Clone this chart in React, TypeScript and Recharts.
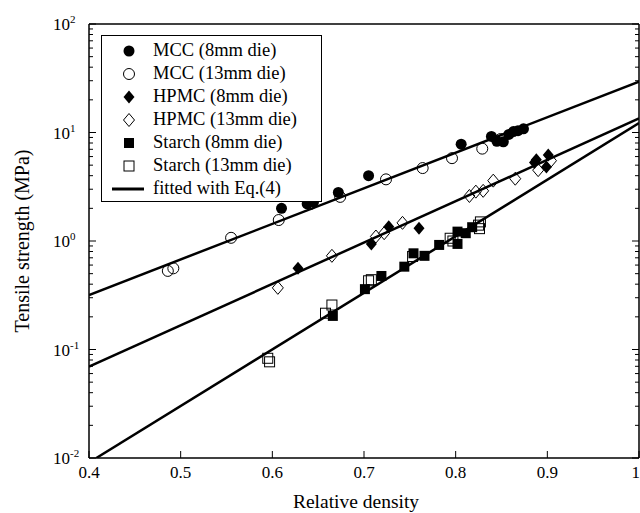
import React from 'react';
import { ScatterChart, Scatter, XAxis, YAxis, Legend } from 'recharts';

const FONT = 'Liberation Serif, Tinos, DejaVu Serif, Noto Serif, serif';

// measured points: x = relative density, y = tensile strength (MPa)
const mcc8 = [
  { x: 0.61, y: 2.0 },
  { x: 0.638, y: 2.2 },
  { x: 0.645, y: 2.3 },
  { x: 0.672, y: 2.8 },
  { x: 0.705, y: 4.0 },
  { x: 0.806, y: 7.8 },
  { x: 0.839, y: 9.2 },
  { x: 0.845, y: 8.3 },
  { x: 0.852, y: 8.2 },
  { x: 0.858, y: 9.6 },
  { x: 0.863, y: 10.2 },
  { x: 0.868, y: 10.4 },
  { x: 0.874, y: 10.8 },
];

const mcc13 = [
  { x: 0.486, y: 0.53 },
  { x: 0.492, y: 0.56 },
  { x: 0.555, y: 1.07 },
  { x: 0.607, y: 1.56 },
  { x: 0.642, y: 2.2 },
  { x: 0.674, y: 2.55 },
  { x: 0.724, y: 3.7 },
  { x: 0.764, y: 4.7 },
  { x: 0.796, y: 5.8 },
  { x: 0.829, y: 7.1 },
  { x: 0.849, y: 8.7 },
];

const hpmc8 = [
  { x: 0.628, y: 0.56 },
  { x: 0.708, y: 0.94 },
  { x: 0.727, y: 1.35 },
  { x: 0.76, y: 1.31 },
  { x: 0.886, y: 5.3 },
  { x: 0.888, y: 5.6 },
  { x: 0.899, y: 4.8 },
  { x: 0.901, y: 6.2 },
];

const hpmc13 = [
  { x: 0.606, y: 0.37 },
  { x: 0.665, y: 0.73 },
  { x: 0.713, y: 1.1 },
  { x: 0.722, y: 1.18 },
  { x: 0.742, y: 1.47 },
  { x: 0.815, y: 2.6 },
  { x: 0.822, y: 2.85 },
  { x: 0.83, y: 2.9 },
  { x: 0.841, y: 3.6 },
  { x: 0.865, y: 3.75 },
  { x: 0.89, y: 4.5 },
  { x: 0.904, y: 5.5 },
];

const starch8 = [
  { x: 0.666, y: 0.204 },
  { x: 0.701, y: 0.36 },
  { x: 0.719, y: 0.476 },
  { x: 0.744, y: 0.58 },
  { x: 0.754, y: 0.77 },
  { x: 0.766, y: 0.73 },
  { x: 0.782, y: 0.92 },
  { x: 0.802, y: 1.22 },
  { x: 0.802, y: 0.94 },
  { x: 0.811, y: 1.18 },
  { x: 0.818, y: 1.34 },
];

const starch13 = [
  { x: 0.595, y: 0.083 },
  { x: 0.597, y: 0.077 },
  { x: 0.658, y: 0.216 },
  { x: 0.665, y: 0.257 },
  { x: 0.705, y: 0.43 },
  { x: 0.708, y: 0.44 },
  { x: 0.753, y: 0.72 },
  { x: 0.794, y: 1.06 },
  { x: 0.797, y: 1.0 },
  { x: 0.825, y: 1.4 },
  { x: 0.827, y: 1.5 },
  { x: 0.826, y: 1.3 },
];

// fitted lines (Eq. 4), end points
const mccFit = [
  { x: 0.4, y: 0.318 },
  { x: 1.0, y: 29.4 },
];
const hpmcFit = [
  { x: 0.4, y: 0.0694 },
  { x: 1.0, y: 13.5 },
];
const starchFit = [
  { x: 0.408, y: 0.01 },
  { x: 1.0, y: 12.2 },
];

const xTicks = [0.4, 0.5, 0.6, 0.7, 0.8, 0.9, 1.0];
const xTopTicks = [0.5, 0.6, 0.7, 0.8, 0.9];
const decades = [0.01, 0.1, 1, 10];
const minorSteps = [1, 2, 3, 4, 5, 6, 7, 8, 9];
const yTicks = [...decades.flatMap((d) => minorSteps.map((m) => +(d * m).toPrecision(3))), 100];

type MarkerKind = 'circle' | 'circleOpen' | 'diamond' | 'diamondOpen' | 'square' | 'squareOpen' | 'line';

const legendItems: { name: string; kind: MarkerKind }[] = [
  { name: 'MCC (8mm die)', kind: 'circle' },
  { name: 'MCC (13mm die)', kind: 'circleOpen' },
  { name: 'HPMC (8mm die)', kind: 'diamond' },
  { name: 'HPMC (13mm die)', kind: 'diamondOpen' },
  { name: 'Starch (8mm die)', kind: 'square' },
  { name: 'Starch (13mm die)', kind: 'squareOpen' },
  { name: 'fitted with Eq.(4)', kind: 'line' },
];

function Marker({ kind, cx, cy }: { kind: MarkerKind; cx: number; cy: number }) {
  switch (kind) {
    case 'circle':
      return <circle cx={cx} cy={cy} r={5.5} fill="#000" />;
    case 'circleOpen':
      return <circle cx={cx} cy={cy} r={5.5} fill="none" stroke="#000" strokeWidth={1} />;
    case 'diamond':
      return <polygon points={`${cx},${cy - 6.5} ${cx + 5.5},${cy} ${cx},${cy + 6.5} ${cx - 5.5},${cy}`} fill="#000" />;
    case 'diamondOpen':
      return (
        <polygon
          points={`${cx},${cy - 6.5} ${cx + 5.5},${cy} ${cx},${cy + 6.5} ${cx - 5.5},${cy}`}
          fill="none"
          stroke="#000"
          strokeWidth={1}
        />
      );
    case 'square':
      return <rect x={cx - 5} y={cy - 5} width={10} height={10} fill="#000" />;
    case 'squareOpen':
      return <rect x={cx - 5} y={cy - 5} width={10} height={10} fill="none" stroke="#000" strokeWidth={1} />;
    default:
      return <line x1={cx - 16} x2={cx + 16} y1={cy} y2={cy} stroke="#000" strokeWidth={3} />;
  }
}

function LogTick(props: any) {
  const { x, y, payload, side } = props;
  const v = payload.value;
  const exp = Math.round(Math.log10(v));
  const major = Math.abs(v - Math.pow(10, exp)) < 1e-6 * v;
  const len = major ? 7 : 4;
  const dir = side === 'left' ? 1 : -1;
  return (
    <g>
      <line x1={x} x2={x + dir * len} y1={y} y2={y} stroke="#000" strokeWidth={1} />
      {side === 'left' && major && (
        <text x={53} y={y + 6} fontSize={17} fill="#000" style={{ fontFamily: FONT }}>
          10
          <tspan dy={-7} fontSize={11}>
            {exp}
          </tspan>
        </text>
      )}
    </g>
  );
}

function XTick(props: any) {
  const { x, y, payload, side } = props;
  const v = payload.value;
  if (side === 'top') {
    return <line x1={x} x2={x} y1={y} y2={y + 6} stroke="#000" strokeWidth={1} />;
  }
  const last = v === 1;
  return (
    <g>
      <line x1={x} x2={x} y1={y} y2={y - 7} stroke="#000" strokeWidth={1} />
      <text
        x={last ? x + 1 : x}
        y={y + 20}
        textAnchor={last ? 'end' : 'middle'}
        fontSize={17}
        fill="#000"
        style={{ fontFamily: FONT }}
      >
        {last ? '1' : v.toFixed(1)}
      </text>
    </g>
  );
}

function LegendBox() {
  return (
    <div
      style={{
        width: 219,
        height: 165,
        border: '1px solid #000',
        background: '#fff',
        position: 'relative',
        fontFamily: FONT,
        fontSize: 18.5,
        color: '#000',
      }}
    >
      {legendItems.map((item, i) => (
        <div key={item.name} style={{ position: 'absolute', left: 0, top: 3 + i * 23, height: 23, width: 219 }}>
          <svg width={50} height={23} style={{ position: 'absolute', left: 0, top: 0 }}>
            <Marker kind={item.kind} cx={item.kind === 'line' ? 26 : 27} cy={12} />
          </svg>
          <span style={{ position: 'absolute', left: 51, top: 0, lineHeight: '23px', whiteSpace: 'nowrap' }}>
            {item.name}
          </span>
        </div>
      ))}
    </div>
  );
}

const axisLine = { stroke: '#000', strokeWidth: 1.5 };

export default function App() {
  const series: { data: { x: number; y: number }[]; kind: MarkerKind; name: string }[] = [
    { data: mcc8, kind: 'circle', name: 'MCC (8mm die)' },
    { data: mcc13, kind: 'circleOpen', name: 'MCC (13mm die)' },
    { data: hpmc8, kind: 'diamond', name: 'HPMC (8mm die)' },
    { data: hpmc13, kind: 'diamondOpen', name: 'HPMC (13mm die)' },
    { data: starch8, kind: 'square', name: 'Starch (8mm die)' },
    { data: starch13, kind: 'squareOpen', name: 'Starch (13mm die)' },
  ];

  return (
    <div style={{ position: 'absolute', left: 0, top: 0, width: 640, height: 513, background: '#fff', fontFamily: FONT }}>
      <ScatterChart width={640} height={513} margin={{ top: 0, right: 0, bottom: 0, left: 0 }} style={{ fontFamily: FONT }}>
        <XAxis
          xAxisId="bottom"
          dataKey="x"
          type="number"
          domain={[0.4, 1]}
          ticks={xTicks}
          interval={0}
          allowDataOverflow
          height={55}
          axisLine={axisLine}
          tickLine={false}
          tickSize={0}
          tickMargin={0}
          tick={<XTick side="bottom" />}
          label={{
            value: 'Relative density',
            position: 'insideBottom',
            offset: 5,
            dx: -8,
            style: { fontFamily: FONT, fontSize: 19.5, fill: '#000' },
          }}
        />
        <XAxis
          xAxisId="top"
          orientation="top"
          type="number"
          domain={[0.4, 1]}
          ticks={xTopTicks}
          interval={0}
          allowDataOverflow
          height={24}
          axisLine={axisLine}
          tickLine={false}
          tickSize={0}
          tickMargin={0}
          tick={<XTick side="top" />}
        />
        <YAxis
          yAxisId="left"
          dataKey="y"
          type="number"
          scale="log"
          domain={[0.01, 100]}
          ticks={yTicks}
          interval={0}
          allowDataOverflow
          width={89}
          axisLine={axisLine}
          tickLine={false}
          tickSize={0}
          tickMargin={0}
          tick={<LogTick side="left" />}
          label={{
            value: 'Tensile strength (MPa)',
            angle: -90,
            position: 'center',
            dx: -23,
            style: { fontFamily: FONT, fontSize: 20, fill: '#000', textAnchor: 'middle' },
          }}
        />
        <YAxis
          yAxisId="right"
          orientation="right"
          type="number"
          scale="log"
          domain={[0.01, 100]}
          ticks={yTicks}
          interval={0}
          allowDataOverflow
          width={1}
          axisLine={axisLine}
          tickLine={false}
          tickSize={0}
          tickMargin={0}
          tick={<LogTick side="right" />}
        />
        {[mccFit, hpmcFit, starchFit].map((fit, i) => (
          <Scatter
            key={`fit-${i}`}
            xAxisId="bottom"
            yAxisId="left"
            data={fit}
            line={{ stroke: '#000', strokeWidth: 2.5 }}
            shape={() => <g />}
            legendType="none"
            isAnimationActive={false}
          />
        ))}
        {series.map((s) => (
          <Scatter
            key={s.name}
            name={s.name}
            xAxisId="bottom"
            yAxisId="left"
            data={s.data}
            shape={(p: any) => <Marker kind={s.kind} cx={p.cx} cy={p.cy} />}
            isAnimationActive={false}
          />
        ))}
        <Legend
          layout="vertical"
          align="center"
          verticalAlign="middle"
          content={() => <LegendBox />}
          wrapperStyle={{ position: 'absolute', left: 101, top: 35, width: 221, height: 167 }}
        />
      </ScatterChart>
    </div>
  );
}
